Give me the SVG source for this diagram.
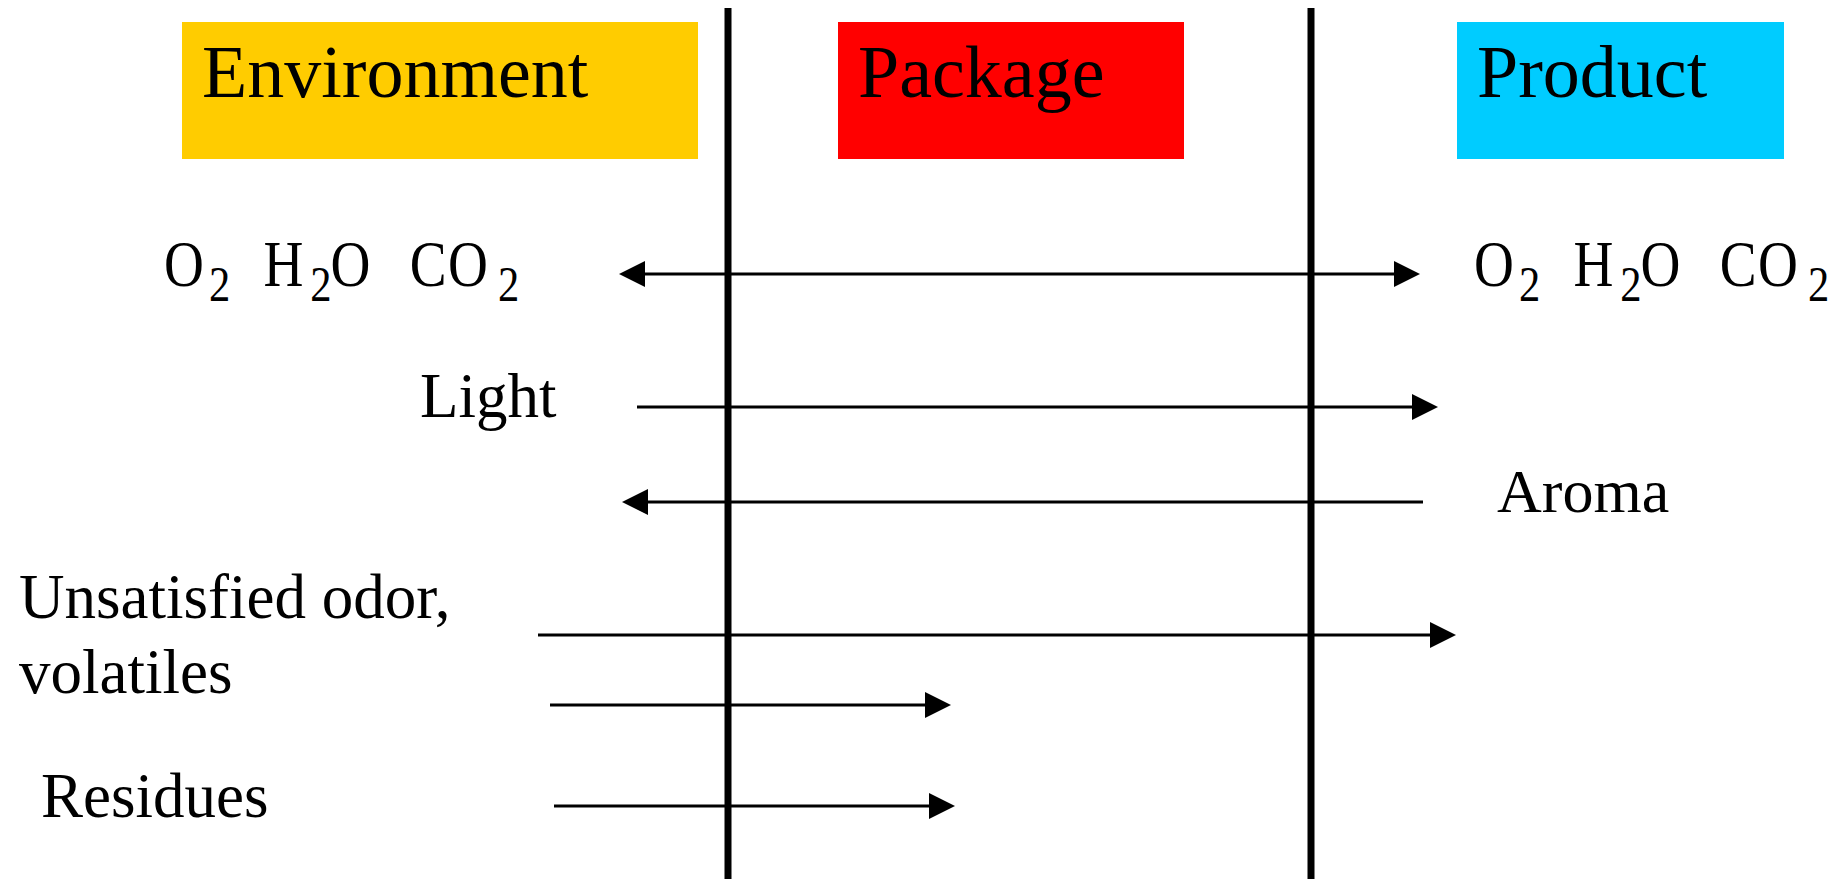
<svg xmlns="http://www.w3.org/2000/svg" width="1839" height="879" viewBox="0 0 1839 879">
<style>
text{font-family:"Liberation Serif","Times New Roman",serif;fill:#000}
.hdr{font-size:74px}
.lbl{font-size:63px}
.chem{font-size:65px}
.sub{font-size:50px}
.wall{stroke:#000;stroke-width:7;fill:none}
.arr{stroke:#000;stroke-width:3;fill:none;marker-end:url(#ah)}
</style>
<defs>
<marker id="ah" markerUnits="userSpaceOnUse" markerWidth="27" markerHeight="27" refX="0" refY="13" orient="auto-start-reverse" viewBox="0 0 27 27">
<path d="M0,0 L26,13 L0,26 z" fill="#000"/>
</marker>
</defs>
<rect width="1839" height="879" fill="#fff"/>
<g id="environment">
<rect x="182" y="22" width="516" height="137" fill="#FFCC00"/>
<text class="hdr" x="202" y="97">Environment</text>
</g>
<g id="package">
<rect x="838" y="22" width="346" height="137" fill="#FF0000"/>
<text class="hdr" x="858" y="97">Package</text>
</g>
<g id="product">
<rect x="1457" y="22" width="327" height="137" fill="#00CCFF"/>
<text class="hdr" x="1477" y="97">Product</text>
</g>
<g id="walls">
<line class="wall" x1="728" y1="8" x2="728" y2="879"/>
<line class="wall" x1="1311" y1="8" x2="1311" y2="879"/>
</g>
<g id="gases-env" transform="translate(164,286) scale(0.85,1)">
<text class="chem" x="0" y="0">O</text>
<text class="sub" x="53" y="15">2</text>
<text class="chem" x="117" y="0">H</text>
<text class="sub" x="172" y="15">2</text>
<text class="chem" x="196" y="0">O</text>
<text class="chem" x="289" y="0">C</text>
<text class="chem" x="334" y="0">O</text>
<text class="sub" x="393" y="15">2</text>
</g>
<g id="gases-prod" transform="translate(1474,286) scale(0.85,1)">
<text class="chem" x="0" y="0">O</text>
<text class="sub" x="53" y="15">2</text>
<text class="chem" x="117" y="0">H</text>
<text class="sub" x="172" y="15">2</text>
<text class="chem" x="196" y="0">O</text>
<text class="chem" x="289" y="0">C</text>
<text class="chem" x="334" y="0">O</text>
<text class="sub" x="393" y="15">2</text>
</g>
<g id="light"><text class="lbl" x="420" y="417">Light</text></g>
<g id="aroma"><text class="lbl" x="1497" y="512" style="font-size:62px">Aroma</text></g>
<g id="odor">
<text class="lbl" x="19" y="618">Unsatisfied odor,</text>
<text class="lbl" x="19" y="693">volatiles</text>
</g>
<g id="residues"><text class="lbl" x="41" y="817">Residues</text></g>
<g id="connectors">
<line class="arr" x1="645" y1="274" x2="1394" y2="274" style="marker-start:url(#ah)"/>
<line class="arr" x1="637" y1="407" x2="1412" y2="407"/>
<line class="arr" x1="1423" y1="502" x2="648" y2="502"/>
<line class="arr" x1="538" y1="635" x2="1430" y2="635"/>
<line class="arr" x1="550" y1="705" x2="925" y2="705"/>
<line class="arr" x1="554" y1="806" x2="929" y2="806"/>
</g>
</svg>
